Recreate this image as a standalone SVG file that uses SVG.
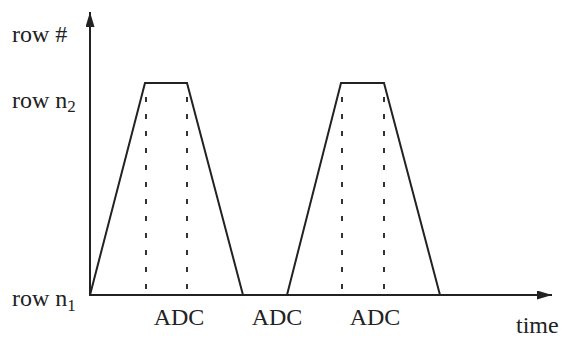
<svg xmlns="http://www.w3.org/2000/svg" width="562" height="338" viewBox="0 0 562 338">
<style>
.ln{fill:none;stroke:#222;stroke-width:2;stroke-linejoin:miter}
.ds{fill:none;stroke:#333;stroke-width:2;stroke-dasharray:5 12}
.t{font-family:"Liberation Serif","Times New Roman",serif;font-size:24px;fill:#222}
.s{font-size:17px}
</style>
<defs>
<marker id="ah" viewBox="0 0 15 9" refX="15" refY="4.5" markerWidth="15" markerHeight="9" markerUnits="userSpaceOnUse" orient="auto">
<path d="M0,0 L15,4.5 L0,9 Z" fill="#222"/>
</marker>
</defs>
<g id="connectors">
<line class="ln" x1="90" y1="296" x2="90" y2="12" marker-end="url(#ah)"/>
<line class="ln" x1="89" y1="295" x2="552" y2="295" marker-end="url(#ah)"/>
<polyline class="ln" points="90,295 145,83 187,83 243,295"/>
<polyline class="ln" points="287,295 341,83 384,83 440,295"/>
<line class="ds" x1="146" y1="97" x2="146" y2="295"/>
<line class="ds" x1="187" y1="97" x2="187" y2="295"/>
<line class="ds" x1="342" y1="97" x2="342" y2="295"/>
<line class="ds" x1="384" y1="97" x2="384" y2="295"/>
</g>
<g id="label-row-hash"><text class="t" x="12" y="42">row #</text></g>
<g id="label-row-n2"><text class="t" x="12" y="108">row n<tspan class="s" dy="4">2</tspan></text></g>
<g id="label-row-n1"><text class="t" x="12" y="306">row n<tspan class="s" dy="5">1</tspan></text></g>
<g id="label-adc1"><text class="t" x="179" y="325" text-anchor="middle">ADC</text></g>
<g id="label-adc2"><text class="t" x="277" y="325" text-anchor="middle">ADC</text></g>
<g id="label-adc3"><text class="t" x="375" y="325" text-anchor="middle">ADC</text></g>
<g id="label-time"><text class="t" x="516" y="333">time</text></g>
</svg>
